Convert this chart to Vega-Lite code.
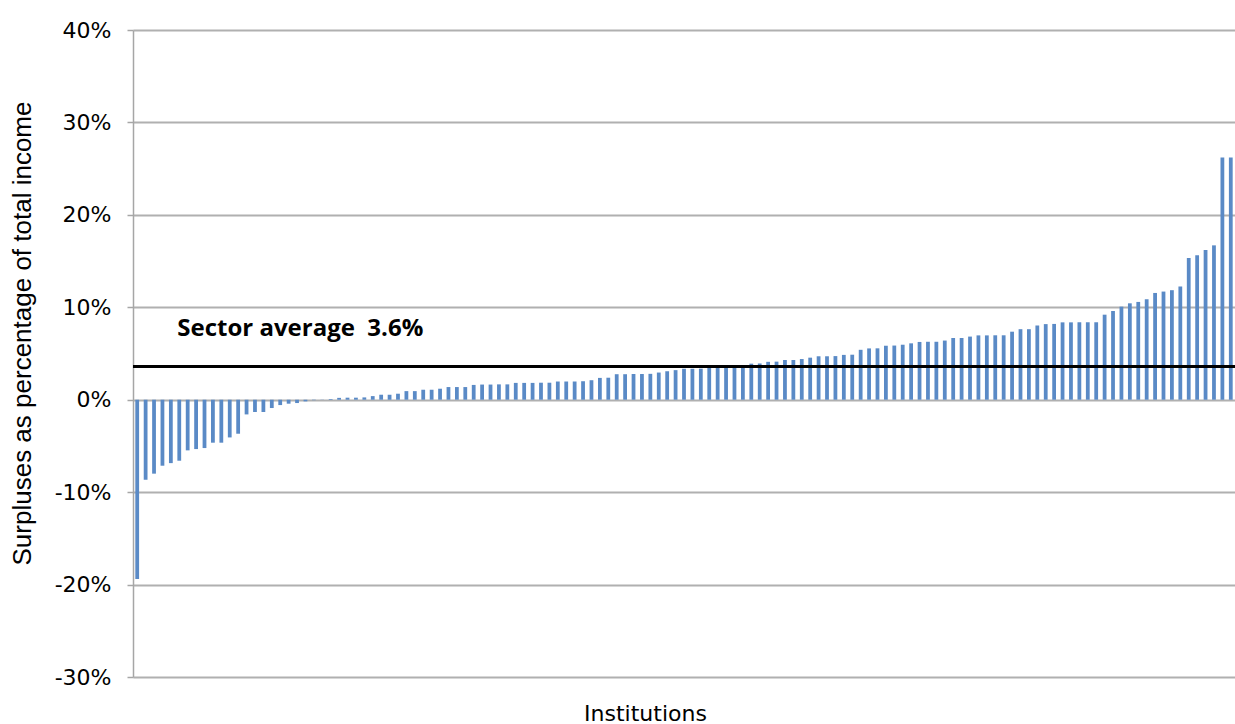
{
  "$schema": "https://vega.github.io/schema/vega-lite/v6.json",
  "width": 1102,
  "height": 647,
  "autosize": "none",
  "padding": {"left": 133, "top": 30, "right": 0, "bottom": 47},
  "background": "white",
  "config": {
    "view": {"stroke": null},
    "axis": {"labelFont": "DejaVu Sans", "titleFont": "DejaVu Sans", "labelColor": "#000", "titleColor": "#000", "titleFontWeight": "normal"}
  },
  "data": {
    "values": [
      {"id": 1, "pct": -19.4}, {"id": 2, "pct": -8.66}, {"id": 3, "pct": -8.0}, {"id": 4, "pct": -7.14},
      {"id": 5, "pct": -6.86}, {"id": 6, "pct": -6.6}, {"id": 7, "pct": -5.48}, {"id": 8, "pct": -5.34},
      {"id": 9, "pct": -5.23}, {"id": 10, "pct": -4.65}, {"id": 11, "pct": -4.65}, {"id": 12, "pct": -4.08},
      {"id": 13, "pct": -3.68}, {"id": 14, "pct": -1.59}, {"id": 15, "pct": -1.33}, {"id": 16, "pct": -1.33},
      {"id": 17, "pct": -0.9}, {"id": 18, "pct": -0.58}, {"id": 19, "pct": -0.43}, {"id": 20, "pct": -0.36},
      {"id": 21, "pct": -0.18}, {"id": 22, "pct": -0.05}, {"id": 23, "pct": 0.02}, {"id": 24, "pct": 0.08},
      {"id": 25, "pct": 0.2}, {"id": 26, "pct": 0.22}, {"id": 27, "pct": 0.22}, {"id": 28, "pct": 0.25},
      {"id": 29, "pct": 0.39}, {"id": 30, "pct": 0.54}, {"id": 31, "pct": 0.54}, {"id": 32, "pct": 0.65},
      {"id": 33, "pct": 0.93}, {"id": 34, "pct": 0.93}, {"id": 35, "pct": 1.08}, {"id": 36, "pct": 1.08},
      {"id": 37, "pct": 1.19}, {"id": 38, "pct": 1.37}, {"id": 39, "pct": 1.37}, {"id": 40, "pct": 1.37},
      {"id": 41, "pct": 1.6}, {"id": 42, "pct": 1.64}, {"id": 43, "pct": 1.64}, {"id": 44, "pct": 1.66},
      {"id": 45, "pct": 1.66}, {"id": 46, "pct": 1.82}, {"id": 47, "pct": 1.82}, {"id": 48, "pct": 1.82},
      {"id": 49, "pct": 1.84}, {"id": 50, "pct": 1.84}, {"id": 51, "pct": 1.97}, {"id": 52, "pct": 1.97},
      {"id": 53, "pct": 1.97}, {"id": 54, "pct": 2.0}, {"id": 55, "pct": 2.11}, {"id": 56, "pct": 2.36},
      {"id": 57, "pct": 2.38}, {"id": 58, "pct": 2.76}, {"id": 59, "pct": 2.76}, {"id": 60, "pct": 2.78},
      {"id": 61, "pct": 2.78}, {"id": 62, "pct": 2.8}, {"id": 63, "pct": 2.94}, {"id": 64, "pct": 3.08},
      {"id": 65, "pct": 3.2}, {"id": 66, "pct": 3.35}, {"id": 67, "pct": 3.35}, {"id": 68, "pct": 3.36},
      {"id": 69, "pct": 3.5}, {"id": 70, "pct": 3.55}, {"id": 71, "pct": 3.58}, {"id": 72, "pct": 3.6},
      {"id": 73, "pct": 3.65}, {"id": 74, "pct": 3.9}, {"id": 75, "pct": 3.92}, {"id": 76, "pct": 4.1},
      {"id": 77, "pct": 4.12}, {"id": 78, "pct": 4.3}, {"id": 79, "pct": 4.3}, {"id": 80, "pct": 4.4},
      {"id": 81, "pct": 4.55}, {"id": 82, "pct": 4.7}, {"id": 83, "pct": 4.7}, {"id": 84, "pct": 4.72},
      {"id": 85, "pct": 4.85}, {"id": 86, "pct": 4.87}, {"id": 87, "pct": 5.4}, {"id": 88, "pct": 5.55},
      {"id": 89, "pct": 5.56}, {"id": 90, "pct": 5.84}, {"id": 91, "pct": 5.86}, {"id": 92, "pct": 5.95},
      {"id": 93, "pct": 6.1}, {"id": 94, "pct": 6.25}, {"id": 95, "pct": 6.27}, {"id": 96, "pct": 6.27},
      {"id": 97, "pct": 6.4}, {"id": 98, "pct": 6.68}, {"id": 99, "pct": 6.68}, {"id": 100, "pct": 6.83},
      {"id": 101, "pct": 6.96}, {"id": 102, "pct": 6.96}, {"id": 103, "pct": 6.97}, {"id": 104, "pct": 6.97},
      {"id": 105, "pct": 7.36}, {"id": 106, "pct": 7.63}, {"id": 107, "pct": 7.63}, {"id": 108, "pct": 8.03},
      {"id": 109, "pct": 8.18}, {"id": 110, "pct": 8.2}, {"id": 111, "pct": 8.37}, {"id": 112, "pct": 8.37},
      {"id": 113, "pct": 8.38}, {"id": 114, "pct": 8.38}, {"id": 115, "pct": 8.38}, {"id": 116, "pct": 9.2},
      {"id": 117, "pct": 9.6}, {"id": 118, "pct": 10.07}, {"id": 119, "pct": 10.43}, {"id": 120, "pct": 10.58},
      {"id": 121, "pct": 10.87}, {"id": 122, "pct": 11.55}, {"id": 123, "pct": 11.7}, {"id": 124, "pct": 11.85},
      {"id": 125, "pct": 12.25}, {"id": 126, "pct": 15.33}, {"id": 127, "pct": 15.62}, {"id": 128, "pct": 16.2},
      {"id": 129, "pct": 16.7}, {"id": 130, "pct": 26.2}, {"id": 131, "pct": 26.2}
    ]
  },
  "layer": [
    {
      "mark": {"type": "bar", "color": "#5a8ac6"},
      "encoding": {
        "x": {
          "field": "id",
          "type": "ordinal",
          "title": "Institutions",
          "scale": {"paddingInner": 0.55, "paddingOuter": 0.275},
          "axis": {
            "labels": false,
            "ticks": false,
            "domain": false,
            "titleFontSize": 22,
            "titleX": 512,
            "titleY": 36,
            "titleBaseline": "middle",
            "titleAlign": "center"
          }
        },
        "y": {
          "field": "pct",
          "type": "quantitative",
          "scale": {"domain": [-30, 40], "nice": false},
          "axis": {
            "values": [-30, -20, -10, 0, 10, 20, 30, 40],
            "labelExpr": "datum.value + '%'",
            "labelFontSize": 22,
            "labelPadding": 16,
            "tickSize": 6,
            "tickColor": "#a6a6a6",
            "tickWidth": 1.5,
            "domainColor": "#a6a6a6",
            "domainWidth": 1.5,
            "gridColor": "#b0b0b0",
            "gridWidth": 2,
            "title": "Surpluses as percentage of total income",
            "titleFont": "Liberation Sans",
            "titleFontSize": 26,
            "titleAngle": -90,
            "titleX": -111,
            "titleY": 303,
            "titleAlign": "center",
            "titleBaseline": "middle"
          }
        }
      }
    },
    {
      "mark": {"type": "rule", "color": "black", "strokeWidth": 2},
      "encoding": {"y": {"datum": 3.6, "type": "quantitative"}}
    },
    {
      "data": {"values": [{"id": 6, "label": "Sector average\u00a0 3.6%", "ypos": 6.9}]},
      "mark": {"type": "text", "align": "left", "baseline": "alphabetic", "dx": -2, "font": "Open Sans", "fontWeight": "bold", "fontSize": 24, "color": "black"},
      "encoding": {
        "x": {"field": "id", "type": "ordinal", "title": "Institutions"},
        "y": {"field": "ypos", "type": "quantitative", "title": "Surpluses as percentage of total income"},
        "text": {"field": "label"}
      }
    }
  ]
}
